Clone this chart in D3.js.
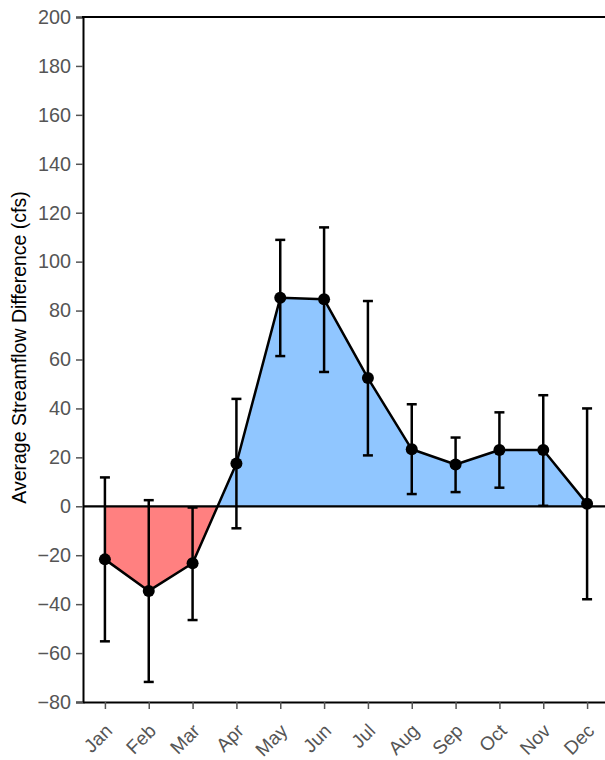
<!DOCTYPE html>
<html>
<head>
<meta charset="utf-8">
<script src="https://cdn.jsdelivr.net/npm/d3@7"></script>
<style>
  body { margin: 0; background: #fff; }
  svg { display: block; font-family: "Liberation Sans", Arial, sans-serif; }
</style>
</head>
<body>
<svg id="chart" width="605" height="760"></svg>
<script>
const months = ["Jan","Feb","Mar","Apr","May","Jun","Jul","Aug","Sep","Oct","Nov","Dec"];
const meanDiff = [-21.7, -34.6, -23.3, 17.5, 85.2, 84.6, 52.4, 23.3, 17.1, 23.0, 23.0, 1.0];
const errUpper = [11.8, 2.5, -0.5, 43.9, 108.9, 114.0, 83.9, 41.7, 28.1, 38.4, 45.4, 40.0];
const errLower = [-55.2, -71.8, -46.5, -9.0, 61.4, 54.9, 20.8, 5.0, 5.8, 7.6, 0.2, -38.0];
const yTicks = [-80, -60, -40, -20, 0, 20, 40, 60, 80, 100, 120, 140, 160, 180, 200];

const data = months.map((m, i) => ({ m, v: meanDiff[i], hi: errUpper[i], lo: errLower[i] }));

const svg = d3.select("#chart");
const mLeft = 83, mRight = 609, mTop = 17, mBottom = 702;

const x = d3.scalePoint().domain(months).range([mLeft, mRight]).padding(0.5);
const y = d3.scaleLinear().domain([-80, 200]).range([mBottom, mTop]);

// clip paths
const defs = svg.append("defs");
defs.append("clipPath").attr("id", "clipPos").append("rect")
  .attr("x", mLeft).attr("y", mTop).attr("width", mRight - mLeft).attr("height", y(0) - mTop);
defs.append("clipPath").attr("id", "clipNeg").append("rect")
  .attr("x", mLeft).attr("y", y(0)).attr("width", mRight - mLeft).attr("height", mBottom - y(0));

const area = d3.area().x(d => x(d.m)).y0(y(0)).y1(d => y(d.v));
svg.append("path").datum(data).attr("d", area).attr("fill", "#90c6ff").attr("clip-path", "url(#clipPos)");
svg.append("path").datum(data).attr("d", area).attr("fill", "#ff8080").attr("clip-path", "url(#clipNeg)");

// zero line
svg.append("line").attr("x1", mLeft).attr("x2", mRight).attr("y1", y(0)).attr("y2", y(0))
  .attr("stroke", "#000").attr("stroke-width", 2.2);

// line
const line = d3.line().x(d => x(d.m)).y(d => y(d.v));
svg.append("path").datum(data).attr("d", line).attr("fill", "none")
  .attr("stroke", "#000").attr("stroke-width", 2.5).attr("stroke-linejoin", "round");

// error bars
const eb = svg.append("g").attr("stroke", "#000").attr("stroke-width", 2.5);
data.forEach(d => {
  const cx = x(d.m);
  eb.append("line").attr("x1", cx).attr("x2", cx).attr("y1", y(d.hi)).attr("y2", y(d.lo));
  eb.append("line").attr("x1", cx - 5).attr("x2", cx + 5).attr("y1", y(d.hi)).attr("y2", y(d.hi));
  eb.append("line").attr("x1", cx - 5).attr("x2", cx + 5).attr("y1", y(d.lo)).attr("y2", y(d.lo));
});

// points
svg.append("g").selectAll("circle").data(data).join("circle")
  .attr("cx", d => x(d.m)).attr("cy", d => y(d.v)).attr("r", 6).attr("fill", "#000");

// axes
const yAxis = svg.append("g").attr("transform", `translate(${mLeft},0)`)
  .call(d3.axisLeft(y).tickValues(yTicks).tickSize(7).tickPadding(5).tickFormat(d => d < 0 ? "\u2212" + Math.abs(d) : d));
yAxis.select(".domain").attr("stroke", "#000").attr("stroke-width", 2);
yAxis.selectAll(".tick line").attr("stroke", "#555").attr("stroke-width", 1.5);
yAxis.selectAll(".tick text").attr("fill", "#555").style("font-size", "19.8px").style("font-family", "Liberation Sans, Arial, sans-serif");

const xAxis = svg.append("g").attr("transform", `translate(0,${mBottom})`)
  .call(d3.axisBottom(x).tickSize(7).tickSizeOuter(0));
xAxis.select(".domain").attr("stroke", "#000").attr("stroke-width", 2);
xAxis.selectAll(".tick line").attr("stroke", "#555").attr("stroke-width", 1.5);
xAxis.selectAll(".tick text")
  .attr("fill", "#555").style("font-size", "19px").style("font-family", "Liberation Sans, Arial, sans-serif")
  .style("text-anchor", "end")
  .attr("y", 0).attr("dy", 0)
  .attr("transform", "translate(8,30) rotate(-45)");

// top border
svg.append("line").attr("x1", mLeft - 1).attr("x2", mRight).attr("y1", mTop).attr("y2", mTop)
  .attr("stroke", "#000").attr("stroke-width", 2);

// y label
svg.append("text")
  .attr("transform", `translate(26,347.5) rotate(-90)`)
  .attr("text-anchor", "middle")
  .style("font-size", "19.5px")
  .attr("fill", "#000")
  .text("Average Streamflow Difference (cfs)");
</script>
</body>
</html>
